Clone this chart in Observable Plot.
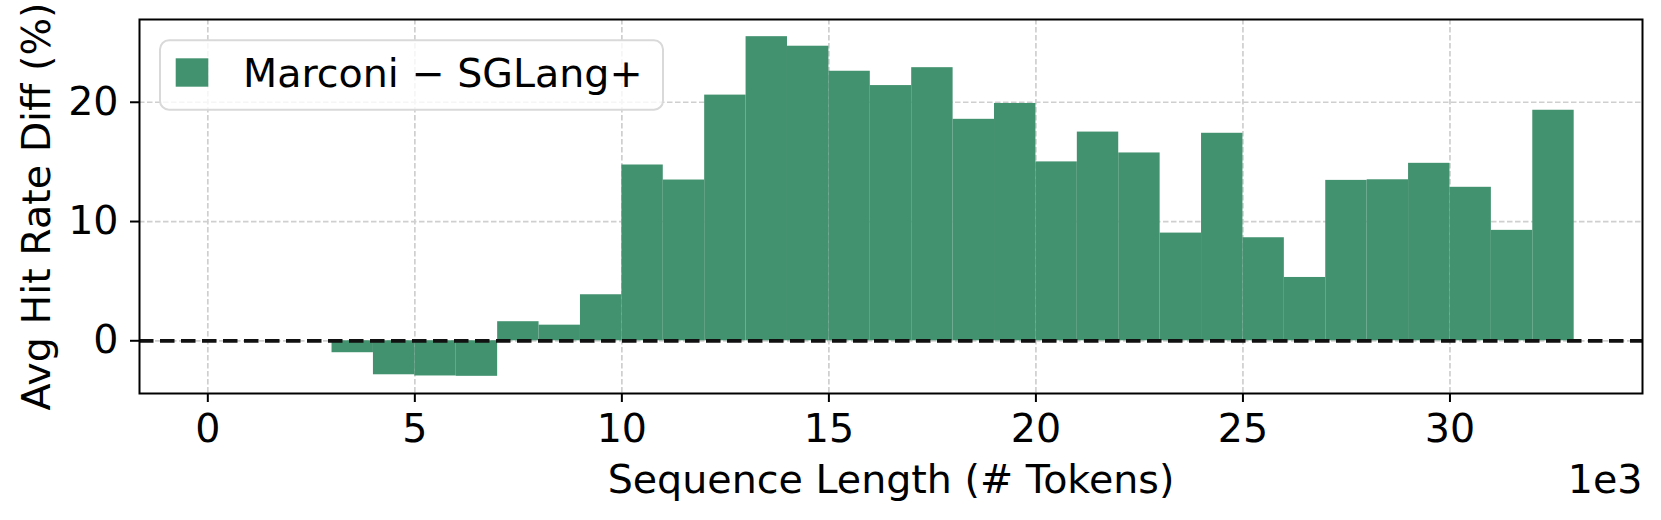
<!DOCTYPE html>
<html>
<head>
<meta charset="utf-8">
<script src="https://cdn.jsdelivr.net/npm/d3@7"></script>
<script src="https://cdn.jsdelivr.net/npm/@observablehq/plot@0.6"></script>
<style>
  html, body { margin: 0; padding: 0; background: #fff; }
  #chart { width: 1661px; height: 520px; }
</style>
</head>
<body>
<div id="chart"></div>
<script>
// ---- data ----
const binStart = [3000, 4000, 5000, 6000, 7000, 8000, 9000, 10000, 11000, 12000,
  13000, 14000, 15000, 16000, 17000, 18000, 19000, 20000, 21000, 22000,
  23000, 24000, 25000, 26000, 27000, 28000, 29000, 30000, 31000, 32000];
const binEnd = [4000, 5000, 6000, 7000, 8000, 9000, 10000, 11000, 12000, 13000,
  14000, 15000, 16000, 17000, 18000, 19000, 20000, 21000, 22000, 23000,
  24000, 25000, 26000, 27000, 28000, 29000, 30000, 31000, 32000, 33000];
const hitRateDiff = [-1.0, -2.85, -2.95, -2.98, 1.6, 1.31, 3.86, 14.74, 13.48, 20.6,
  25.5, 24.7, 22.6, 21.4, 22.9, 18.57, 19.9, 15.0, 17.5, 15.75,
  9.03, 17.4, 8.64, 5.31, 13.45, 13.5, 14.88, 12.87, 9.26, 19.33];
const xTicks = [0, 5000, 10000, 15000, 20000, 25000, 30000];
const yTicks = [0, 10, 20];
const seriesLabel = "Marconi \u2212 SGLang+";
const xLabel = "Sequence Length (# Tokens)";
const yLabel = "Avg Hit Rate Diff (%)";
const offsetLabel = "1e3";

const barColor = "#43926f";
const fs = 39.6;
const font = "'DejaVu Sans', sans-serif";

const rows = binStart.map((s, i) => ({x1: s, x2: binEnd[i], v: hitRateDiff[i]}));

const gridStyle = {stroke: "#cfcfcf", strokeOpacity: 1, strokeWidth: 1.7, strokeDasharray: "5.5,2.5"};

const svg = Plot.plot({
  width: 1661,
  height: 520,
  marginLeft: 139,
  marginRight: 19,
  marginTop: 19,
  marginBottom: 127,
  style: {fontFamily: font, fontSize: fs + "px", background: "#fff", color: "#000"},
  x: {domain: [-1650, 34650]},
  y: {domain: [-4.42, 26.94]},
  marks: [
    Plot.gridX(xTicks, gridStyle),
    Plot.gridY(yTicks, gridStyle),
    Plot.rect(rows, {x1: "x1", x2: "x2", y1: () => 0, y2: "v", fill: barColor}),
    Plot.ruleY([0], {stroke: "#111", strokeWidth: 3.8, strokeDasharray: "14.5,6.5"}),
    Plot.axisX(xTicks, {
      tickFormat: d => String(d / 1000), tickSize: 9, tickPadding: 11, strokeWidth: 2,
      fontSize: fs, label: xLabel, labelAnchor: "center", labelArrow: "none", labelOffset: 99.5
    }),
    Plot.axisY(yTicks, {
      tickSize: 9, tickPadding: 12, strokeWidth: 2,
      fontSize: fs, label: yLabel, labelAnchor: "center", labelArrow: "none", labelOffset: 117.5
    }),
    Plot.frame({stroke: "#000", strokeWidth: 2}),
    Plot.text([offsetLabel], {
      frameAnchor: "bottom-right", textAnchor: "end", lineAnchor: "bottom",
      dy: 99, fontSize: fs, fill: "#000", text: d => d
    })
  ]
});

// legend (inside the frame, upper left)
const lg = d3.select(svg).append("g").attr("class", "legend");
lg.append("rect")
  .attr("x", 160).attr("y", 40.3).attr("width", 503).attr("height", 69.4)
  .attr("rx", 9).attr("ry", 9)
  .attr("fill", "#fff").attr("fill-opacity", 0.8)
  .attr("stroke", "#d9d9d9").attr("stroke-width", 2);
lg.append("rect")
  .attr("x", 175.7).attr("y", 58.3).attr("width", 32.6).attr("height", 28.4)
  .attr("fill", barColor);
lg.append("text")
  .attr("x", 243).attr("y", 87)
  .attr("text-anchor", "start")
  .attr("font-family", font).attr("font-size", fs)
  .attr("fill", "#000")
  .text(seriesLabel);

document.getElementById("chart").appendChild(svg);
</script>
</body>
</html>
